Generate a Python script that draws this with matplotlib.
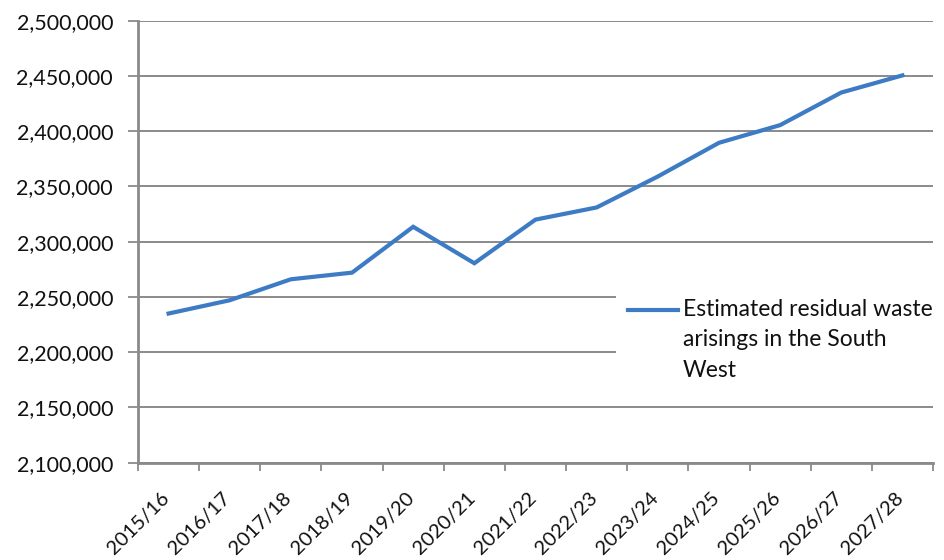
import matplotlib
matplotlib.use("Agg")
import matplotlib.pyplot as plt
from matplotlib.lines import Line2D
from matplotlib.patches import Rectangle

# data
years = ["2015/16", "2016/17", "2017/18", "2018/19", "2019/20", "2020/21", "2021/22",
         "2022/23", "2023/24", "2024/25", "2025/26", "2026/27", "2027/28"]
waste = [2235000, 2247000, 2266000, 2272000, 2313500, 2280500, 2320000,
         2331000, 2359000, 2389500, 2405500, 2435000, 2450500]
yticks = [2100000, 2150000, 2200000, 2250000, 2300000, 2350000, 2400000, 2450000, 2500000]
series_name = "Estimated residual waste\narisings in the South\nWest"

plt.rcParams['font.family'] = ['Lato', 'DejaVu Sans']
W, H = 944, 560
blue = '#3d7cc4'
grey = '#8a8a8a'
txt = '#111111'

fig = plt.figure(figsize=(W / 100, H / 100), dpi=100)
ax = fig.add_axes([138 / W, 1 - 462.7 / H, (933 - 138) / W, (462.7 - 20.7) / H])

x = list(range(len(years)))
ax.plot(x, waste, color=blue, lw=3.0, solid_joinstyle='miter', zorder=3)

ax.set_xlim(-0.5, len(years) - 0.5)
ax.set_ylim(yticks[0], yticks[-1])

# ticks between categories, labels in the middle
ax.set_xticks([i - 0.5 for i in range(len(years) + 1)])
ax.set_xticklabels([])
ax.set_xticks(x, minor=True)
ax.set_xticklabels(years, minor=True, rotation=45, ha='right', fontsize=14.5, color=txt)
ax.tick_params(axis='x', which='major', length=6, width=1.3, color=grey, direction='out')
ax.tick_params(axis='x', which='minor', length=0, pad=19)
for lab in ax.get_xticklabels(minor=True):
    lab.set_transform(lab.get_transform() + matplotlib.transforms.ScaledTranslation(4 / 100, 0, fig.dpi_scale_trans))

ax.set_yticks(yticks)
ax.set_yticklabels([f"{v:,}" for v in yticks], fontsize=15.5, color=txt)
ax.tick_params(axis='y', length=7, width=1.3, color=grey, pad=11)

ax.grid(axis='y', color=grey, lw=1.4)
ax.set_axisbelow(True)
for s in ['top', 'right']:
    ax.spines[s].set_visible(False)
for s in ['left', 'bottom']:
    ax.spines[s].set_color(grey)
    ax.spines[s].set_linewidth(2)

# legend drawn by hand so the key sits on the first text line
ax.add_patch(Rectangle((616 / W, 1 - 392 / H), (W - 616) / W, 110 / H,
                       transform=fig.transFigure, facecolor='white', edgecolor='none', zorder=1.5))
fig.add_artist(Line2D([628 / W, 678 / W], [1 - 310 / H, 1 - 310 / H], color=blue, lw=3.0))
fig.text(683 / W, 1 - 299 / H, series_name, fontsize=16.5, color=txt,
         va='top', ha='left', linespacing=1.55)

fig.savefig("out.png", dpi=100)
